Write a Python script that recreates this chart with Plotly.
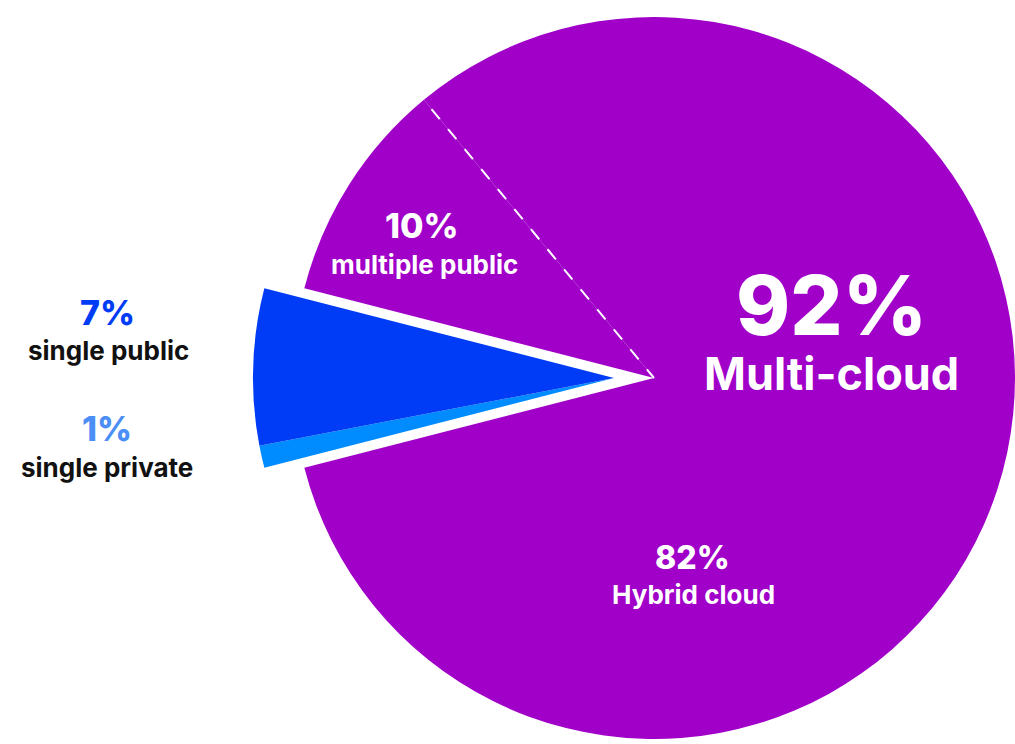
import math
import plotly.graph_objects as go

# ---- data ----
labels = ["Hybrid cloud", "single private", "single public", "multiple public"]
values = [82, 1, 7, 10]
multi_label = "Multi-cloud"
multi_value = values[0] + values[3]

# ---- style ----
PURPLE = "#A000C8"
BLUE_DARK = "#003CF5"
BLUE_LIGHT = "#008CFF"
CLEAR = "rgba(0,0,0,0)"
W, H = 1015, 744
CX, CY, R = 654, 378, 361
PULL_PX = 40
ROT = -39.6
FONT = "Inter"

def dom(cx, cy, r):
    return dict(x=[(cx - r) / W, min(1.0, (cx + r) / W)],
                y=[max(0.0, 1 - (cy + r) / H), 1 - (cy - r) / H])

common = dict(labels=labels, values=values, sort=False, direction="clockwise",
              rotation=ROT, textinfo="none", hoverinfo="label+value",
              showlegend=False, marker_line_width=0)

fig = go.Figure()
fig.add_trace(go.Pie(**common, domain=dom(CX, CY, R),
                     marker_colors=[PURPLE, CLEAR, CLEAR, PURPLE]))
fig.add_trace(go.Pie(**common, domain=dom(CX - PULL_PX, CY, R),
                     marker_colors=[CLEAR, BLUE_LIGHT, BLUE_DARK, CLEAR]))

# dashed divider between hybrid and multiple public (at the start angle)
th = math.radians(ROT)
fig.add_shape(type="line", xref="paper", yref="paper", layer="above",
              x0=(CX + 0.967 * R * math.sin(th)) / W,
              y0=1 - (CY - 0.967 * R * math.cos(th)) / H,
              x1=CX / W, y1=1 - CY / H,
              line=dict(color="white", width=2, dash="13px,13px"))

def ann(text, x, y, size, color, weight=700):
    fig.add_annotation(text=text, x=x / W, y=1 - y / H, xref="paper", yref="paper",
                       showarrow=False, xanchor="center", yanchor="middle",
                       font=dict(family=FONT, size=size, color=color, weight=weight))

# headline: big value and its label in one block
ann(f"<span style='font-size:82px;font-weight:800'>{multi_value}%</span><br>"
    f"<span style='font-size:45px'>{multi_label}</span>", 831, 329, 42, "white", 700)
ann(f"{values[3]}%", 422, 226, 34, "white", 800)
ann(labels[3], 424, 264, 26, "white", 700)
ann(f"{values[0]}%", 692, 557, 32, "white", 800)
ann(labels[0], 693, 594, 26, "white", 700)
ann(f"{values[2]}%", 107, 312, 34, BLUE_DARK, 800)
ann(labels[2], 108, 350, 26, "#111111", 700)
ann(f"{values[1]}%", 107, 428, 34, "#4B8EF5", 800)
ann(labels[1], 107, 467, 26, "#111111", 700)

fig.update_layout(
    width=W, height=H, margin=dict(l=0, r=0, t=0, b=0),
    paper_bgcolor="white", plot_bgcolor="rgba(0,0,0,0)",
    xaxis=dict(visible=False), yaxis=dict(visible=False),
)
fig.write_html("out.html", config={"displayModeBar": False},
               post_script="document.body.style.margin='0';")
